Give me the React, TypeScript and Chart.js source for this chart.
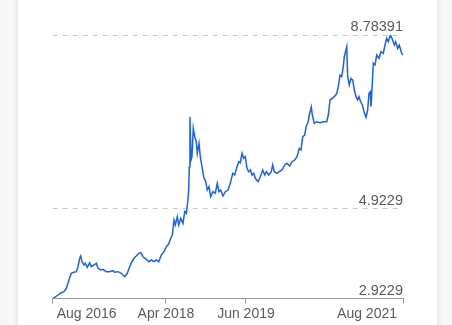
import React, { useEffect, useRef } from "react";
import { Chart, registerables } from "chart.js";

Chart.register(...registerables);

// Months elapsed since Jan 2016 for each sample
const monthIndex = [
  7.18, 7.53, 8.1, 8.68, 9.15, 9.56, 9.85, 10.2, 10.43, 10.9,
  11.31, 11.6, 11.9, 12.08, 12.3, 12.65, 12.88, 13.23, 13.65, 13.93,
  14.4, 14.81, 15.1, 15.58, 15.98, 16.56, 17.15, 17.73, 18.03, 18.6,
  19.18, 19.78, 20.23, 20.65, 21.05, 21.4, 21.81, 22.23, 22.58, 22.98,
  23.56, 23.98, 24.43, 24.9, 25.31, 25.73, 26.18, 26.65, 27.06, 27.48,
  27.83, 28.11, 28.4, 28.63, 28.98, 29.23, 29.58, 29.98, 30.28, 30.56,
  30.85, 30.98, 31.08, 31.2, 31.38, 31.55, 31.78, 32.03, 32.31, 32.48,
  32.78, 33.01, 33.3, 33.6, 33.95, 34.23, 34.53, 34.83, 35.23, 35.63,
  35.98, 36.28, 36.58, 36.98, 37.38, 37.86,
  38.26, 38.68, 39.03, 39.43, 39.73, 40.01, 40.31, 40.6, 40.88, 41.18,
  41.48, 41.76, 42.06, 42.35, 42.63, 43.11, 43.51, 43.93, 44.28, 44.56,
  44.98, 45.43, 45.68, 45.96, 46.43, 46.83, 47.31, 47.78, 48.18, 48.65,
  49.06, 49.53, 49.93, 50.33, 50.63, 50.93, 51.28, 51.51, 51.86, 52.12,
  52.43,
  52.61, 52.96, 53.38, 53.96, 54.53, 55.13, 55.41, 55.71, 56.11, 56.46,
  56.88, 57.16, 57.46, 57.75, 58.03, 58.21, 58.63, 58.8, 59.08, 59.38,
  59.68, 59.96, 60.26, 60.55, 60.78, 61.08, 61.36, 61.66, 62.01, 62.3,
  62.53, 62.76, 62.88, 63.11, 63.28, 63.58, 63.88, 64.28, 64.63, 65.03,
  65.33, 65.63, 65.91, 66.26, 66.61, 66.96, 67.2, 67.55, 67.83, 68.25,
  68.48,
];

// Exchange rate at each sample
const rate = [
  2.9229, 2.952, 3.003, 3.054, 3.076, 3.152, 3.263, 3.41, 3.485, 3.508,
  3.521, 3.632, 3.819, 3.87, 3.743, 3.67, 3.708, 3.619, 3.721, 3.632,
  3.67, 3.708, 3.597, 3.559, 3.574, 3.521, 3.521, 3.543, 3.508, 3.521,
  3.485, 3.41, 3.485, 3.632, 3.743, 3.819, 3.87, 3.93, 3.943, 3.854,
  3.797, 3.743, 3.781, 3.743, 3.781, 3.743, 3.892, 3.966, 4.077, 4.137,
  4.264, 4.337, 4.67, 4.559, 4.744, 4.559, 4.708, 4.597, 4.855, 4.819,
  5.115, 5.337, 5.855, 6.967, 6.004, 6.078, 6.709, 6.522, 6.411, 6.153,
  6.376, 6.078, 5.855, 5.633, 5.522, 5.337, 5.411, 5.188, 5.299, 5.264,
  5.486, 5.299, 5.337, 5.204, 5.299, 5.337,
  5.486, 5.709, 5.671, 5.855, 5.966, 5.944, 6.153, 6.042, 6.078, 5.82,
  5.744, 5.782, 5.671, 5.709, 5.597, 5.522, 5.633, 5.782, 5.671, 5.744,
  5.671, 5.744, 5.893, 5.744, 5.709, 5.744, 5.782, 5.893, 5.931, 5.871,
  5.966, 6.004, 6.078, 6.264, 6.227, 6.522, 6.56, 6.738, 6.849, 7.027,
  7.183,
  7.005, 6.82, 6.856, 6.833, 6.856, 6.856, 7.005, 7.338, 7.376, 7.412,
  7.487, 7.634, 7.894, 7.856, 8.079, 8.301, 8.523, 7.856, 7.672, 7.82,
  7.783, 7.56, 7.412, 7.338, 7.412, 7.3, 7.227, 7.078, 6.953, 7.116,
  7.487, 7.523, 7.189, 7.709, 8.154, 8.116, 8.339, 8.265, 8.412, 8.376,
  8.561, 8.71, 8.634, 8.78391, 8.688, 8.561, 8.634, 8.487, 8.561, 8.376,
  8.339,
];

// Reference levels on the value axis
const yTickValues = [2.9229, 4.9229, 8.78391];

// Date ticks along the time axis
const xTickMonths = [7.18, 27, 41, 68.48];
const xTickLabels = ["Aug 2016", "Apr 2018", "Jun 2019", "Aug 2021"];

const FONT = "'Liberation Sans', Arial, Helvetica, sans-serif";
const LINE_BLUE = "rgb(24, 98, 238)";
const TEXT_GRAY = "#5a5a5a";

const monthLabelPlugin = {
  id: "monthLabels",
  afterDraw(chart: any) {
    const xs = chart.scales.x;
    const ctx = chart.ctx as CanvasRenderingContext2D;
    const last = xTickMonths.length - 1;
    ctx.save();
    ctx.font = `14px ${FONT}`;
    ctx.fillStyle = TEXT_GRAY;
    ctx.textBaseline = "middle";
    xTickMonths.forEach((m, i) => {
      const px = xs.getPixelForValue(m);
      let align: CanvasTextAlign = "center";
      let dx = 0;
      if (i === 0) {
        align = "left";
        dx = 4;
      } else if (i === last) {
        align = "right";
        dx = -6;
      }
      ctx.textAlign = align;
      ctx.fillText(xTickLabels[i], px + dx, xs.top + 16);
    });
    ctx.restore();
  },
};

export default function App() {
  const canvasRef = useRef<HTMLCanvasElement | null>(null);

  useEffect(() => {
    if (!canvasRef.current) return;
    const points = monthIndex.map((m, i) => ({ x: m, y: rate[i] }));
    const chart = new Chart(canvasRef.current, {
      type: "line",
      data: {
        datasets: [
          {
            data: points,
            borderColor: LINE_BLUE,
            borderWidth: 1.5,
            pointRadius: 0,
            tension: 0,
            fill: false,
          },
        ],
      },
      options: {
        responsive: false,
        maintainAspectRatio: false,
        animation: false,
        devicePixelRatio: 1,
        layout: { padding: { left: 52.7, right: 49, top: 35, bottom: 21.4 } },
        plugins: { legend: { display: false }, tooltip: { enabled: false } },
        scales: {
          x: {
            type: "linear",
            min: xTickMonths[0],
            max: xTickMonths[xTickMonths.length - 1],
            afterBuildTicks: (axis: any) => {
              axis.ticks = xTickMonths.map((v) => ({ value: v }));
            },
            border: { display: true, color: "#9a9a9a", width: 1 },
            grid: {
              display: true,
              drawOnChartArea: false,
              drawTicks: true,
              tickLength: 5,
              color: "#9a9a9a",
            },
            ticks: { display: false },
          },
          y: {
            type: "linear",
            position: "right",
            min: yTickValues[0],
            max: yTickValues[yTickValues.length - 1],
            afterBuildTicks: (axis: any) => {
              axis.ticks = yTickValues.map((v) => ({ value: v }));
            },
            afterFit: (axis: any) => {
              axis.width = 0;
            },
            border: { display: false, dash: [5, 5] },
            grid: {
              drawTicks: false,
              color: (c: any) =>
                c.tick && c.tick.value === yTickValues[0] ? "rgba(0,0,0,0)" : "#c8c8c8",
            },
            ticks: {
              mirror: true,
              padding: 0,
              labelOffset: -8,
              color: TEXT_GRAY,
              font: { family: FONT, size: 14.5 },
              callback: (v: any) => String(v),
            },
          },
        },
      },
      plugins: [monthLabelPlugin],
    });
    return () => chart.destroy();
  }, []);

  return (
    <div
      style={{
        position: "fixed",
        left: 0,
        top: 0,
        width: 452,
        height: 325,
        background: "#f7f7f8",
        overflow: "hidden",
      }}
    >
      <div
        style={{
          position: "absolute",
          left: 18,
          top: -20,
          width: 419,
          height: 370,
          background: "#ffffff",
          boxShadow: "0 0 6px rgba(0,0,0,0.14)",
        }}
      />
      <canvas
        ref={canvasRef}
        width={452}
        height={325}
        style={{ position: "absolute", left: 0, top: 0, width: 452, height: 325 }}
      />
    </div>
  );
}
